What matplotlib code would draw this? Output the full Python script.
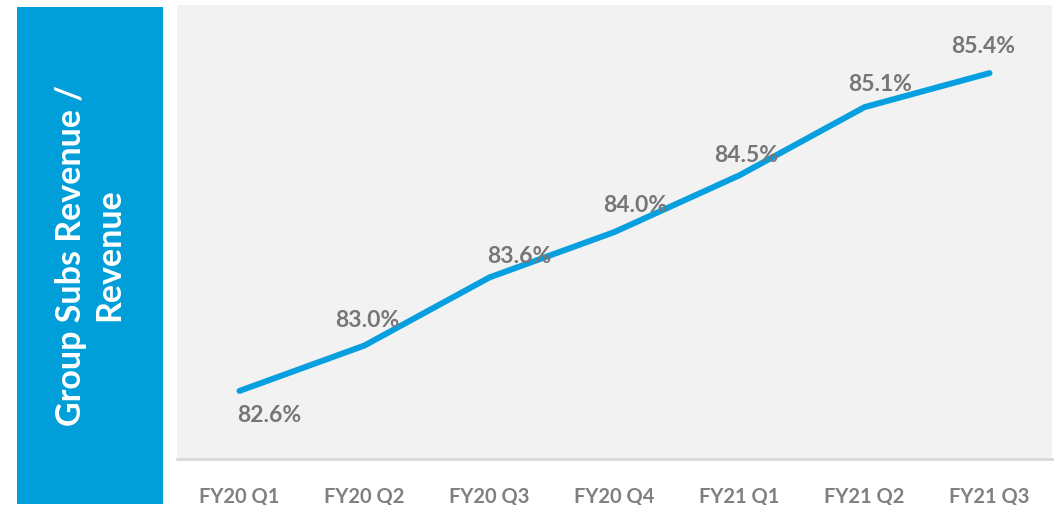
import matplotlib
matplotlib.use("Agg")
import matplotlib.pyplot as plt
from matplotlib.patches import Rectangle

categories = ["FY20 Q1", "FY20 Q2", "FY20 Q3", "FY20 Q4", "FY21 Q1", "FY21 Q2", "FY21 Q3"]
values = [82.6, 83.0, 83.6, 84.0, 84.5, 85.1, 85.4]
value_labels = ["82.6%", "83.0%", "83.6%", "84.0%", "84.5%", "85.1%", "85.4%"]
ylabel_text = "Group Subs Revenue /\nRevenue"

# layout: label offsets in pixels (dx, dy)
label_offsets = [(30, -25), (3, 25), (30, 21), (21, 26), (7, 20), (16, 23), (-6, 27)]

W, H = 1064, 505
fig = plt.figure(figsize=(W / 100, H / 100), dpi=100)
fig.patch.set_facecolor("white")

# left blue box
fig.patches.append(Rectangle((17 / W, 1 - 504 / H), (163 - 17) / W, (504 - 7) / H,
                             transform=fig.transFigure, facecolor="#009FD9", edgecolor="none"))
fig.text(90 / W, 1 - 255 / H, ylabel_text, rotation=90, ha="center", va="center",
         color="white", fontsize=24.5, fontweight="bold", family=["Lato", "DejaVu Sans"],
         linespacing=1.25, multialignment="center")

ax = fig.add_axes([177 / W, 1 - 459 / H, (1052 - 177) / W, (459 - 5) / H])
ax.set_facecolor("#F2F2F2")
x = list(range(len(categories)))
ax.plot(x, values, color="#069FE0", linewidth=4.3, solid_capstyle="round", solid_joinstyle="round")
ax.set_xlim(-0.5, len(categories) - 0.5)
ax.set_ylim(82.0, 86.0)
ax.set_yticks([])
ax.set_xticks(x)
ax.set_xticklabels(categories, fontsize=14.5, fontweight="bold", color="#808080",
                   family=["Lato", "DejaVu Sans"])
ax.tick_params(axis="x", length=0, pad=20)
for s in ["top", "right", "left"]:
    ax.spines[s].set_visible(False)
ax.spines["bottom"].set_color("#D9D9D9")
ax.spines["bottom"].set_linewidth(2)

for xi, v, lab, (dx, dy) in zip(x, values, value_labels, label_offsets):
    ax.annotate(lab, (xi, v), xytext=(dx * 0.72, dy * 0.72), textcoords="offset points",
                ha="center", va="center", fontsize=16.5, fontweight="bold", color="#767676",
                family=["Lato", "DejaVu Sans"])

fig.savefig("out.png", dpi=100, facecolor="white")
